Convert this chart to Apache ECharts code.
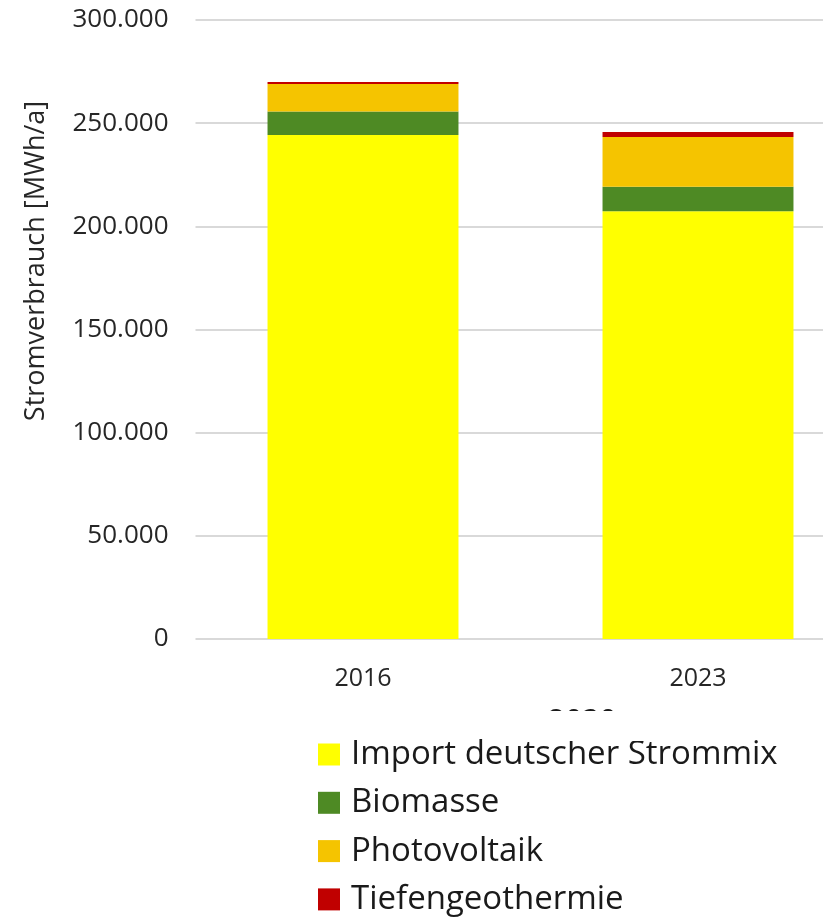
<!DOCTYPE html>
<html><head><meta charset="utf-8">
<script src="https://cdn.jsdelivr.net/npm/echarts@6/dist/echarts.min.js"></script>
<style>html,body{margin:0;padding:0;background:#fff}#c{width:823px;height:917px}</style>
</head><body><div id="c"></div>
<script>
const categories = ['2016', '2023'];
const importMix = [244300, 207300];
const biomasse = [11300, 11900];
const photovoltaik = [13400, 24100];
const tiefengeothermie = [1000, 2400];
const yTicks = [0, 50000, 100000, 150000, 200000, 250000, 300000];

const FONT = 'Open Sans';
const chart = echarts.init(document.getElementById('c'));
function fmt(v){ return v === 0 ? '0' : String(v).replace(/(\d)(?=(\d{3})+$)/g, '$1.'); }
const base = { type: 'bar', stack: 'total', barWidth: '57%', animation: false };
chart.setOption({
  animation: false,
  textStyle: { fontFamily: FONT },
  grid: { left: 195.5, width: 670, top: 20, bottom: 278, containLabel: false, outerBoundsMode: 'none' },
  legend: {
    orient: 'vertical', left: 313, top: 733, height: 400,
    itemWidth: 22, itemHeight: 22, itemGap: 15.3,
    icon: 'rect',
    textStyle: { fontFamily: FONT, fontSize: 33, color: '#1a1a1a', lineHeight: 33, padding: [0,0,0,6] },
    data: ['Import deutscher Strommix', 'Biomasse', 'Photovoltaik', 'Tiefengeothermie']
  },
  xAxis: {
    type: 'category', data: categories,
    axisLine: { show: false }, axisTick: { show: false },
    axisLabel: { fontFamily: FONT, fontSize: 25, color: '#262626', margin: 27 }
  },
  yAxis: {
    type: 'value', min: 0, max: 300000, interval: 50000,
    axisLine: { show: false }, axisTick: { show: false },
    axisLabel: { fontFamily: FONT, fontSize: 26, color: '#262626', margin: 27, formatter: fmt },
    splitLine: { lineStyle: { color: '#d9d9d9', width: 2 } }
  },
  series: [
    Object.assign({}, base, { name: 'Import deutscher Strommix', data: importMix, itemStyle: { color: '#FFFF00' } }),
    Object.assign({}, base, { name: 'Biomasse', data: biomasse, itemStyle: { color: '#4E8A24' } }),
    Object.assign({}, base, { name: 'Photovoltaik', data: photovoltaik, itemStyle: { color: '#F5C400' } }),
    Object.assign({}, base, { name: 'Tiefengeothermie', data: tiefengeothermie, itemStyle: { color: '#C00000' } })
  ],
  graphic: [
    { type: 'text', x: 36, y: 261, rotation: Math.PI / 2, z: 10,
      style: { text: 'Stromverbrauch [MWh/a]', fontFamily: FONT, fontSize: 27, fill: '#262626', align: 'center', verticalAlign: 'middle' } },
    { type: 'text', left: 548, top: 706, z: 10, style: { text: '2030', fontFamily: FONT, fontSize: 30, fill: '#1a1a1a' } },
    { type: 'rect', left: 500, top: 711, z: 11, shape: { width: 200, height: 30 }, style: { fill: '#fff' } }
  ]
});
</script></body></html>
